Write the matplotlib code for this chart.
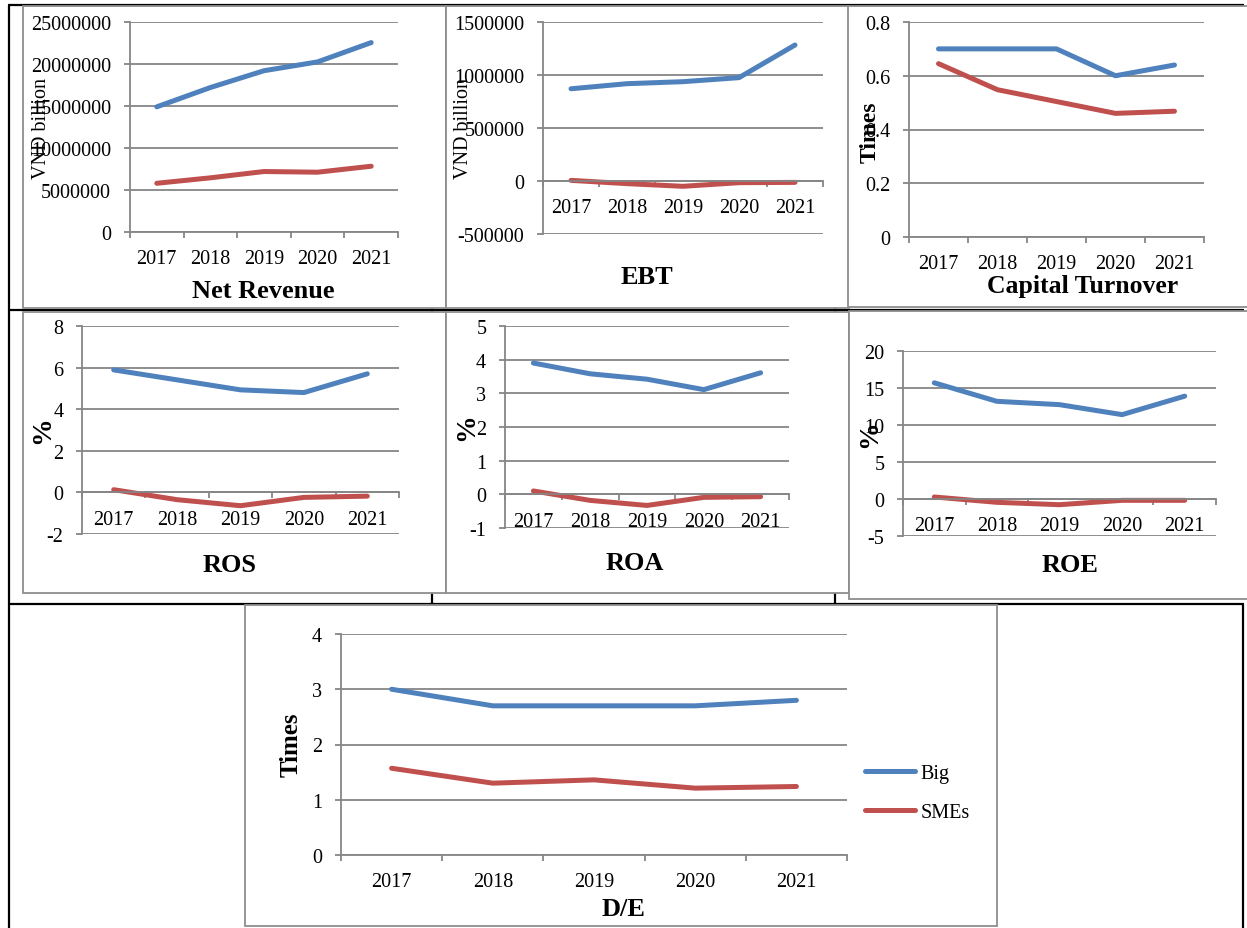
import matplotlib.pyplot as plt
import numpy as np
from matplotlib.patches import Rectangle
from matplotlib.ticker import FuncFormatter

plt.rcParams['font.family'] = ['Liberation Serif', 'DejaVu Serif']

years = ['2017', '2018', '2019', '2020', '2021']

net_rev_big = [14900000, 17200000, 19200000, 20250000, 22550000]
net_rev_sme = [5800000, 6450000, 7200000, 7120000, 7830000]
ebt_big = [870000, 918000, 937000, 975000, 1283000]
ebt_sme = [6000, -25000, -50000, -16000, -13000]
turnover_big = [0.70, 0.70, 0.70, 0.60, 0.64]
turnover_sme = [0.645, 0.548, 0.504, 0.46, 0.468]
ros_big = [5.89, 5.41, 4.93, 4.80, 5.70]
ros_sme = [0.13, -0.35, -0.64, -0.24, -0.18]
roa_big = [3.90, 3.58, 3.42, 3.11, 3.61]
roa_sme = [0.10, -0.18, -0.33, -0.09, -0.07]
roe_big = [15.7, 13.2, 12.75, 11.4, 13.9]
roe_sme = [0.27, -0.45, -0.77, -0.18, -0.18]
de_big = [3.0, 2.7, 2.7, 2.7, 2.8]
de_sme = [1.57, 1.30, 1.36, 1.21, 1.24]

BLUE = '#4f81bd'
RED = '#c0504d'
GRID = '#868686'
FRAME = '#8e8e8e'

W, H = 1247, 929
fig = plt.figure(figsize=(W / 100, H / 100), dpi=100)

# background layer in pixel units: table rules, chart frames, titles
bg = fig.add_axes([0, 0, 1, 1], zorder=-1)
bg.set_xlim(0, W)
bg.set_ylim(H, 0)
bg.axis('off')

rules = [
    ((8, 1244), (6, 6)),
    ((9, 9), (6, 929)),
    ((8, 1244), (311, 311)),
    ((8, 1244), (605, 605)),
    ((1243, 1243), (605, 929)),
    ((432, 432), (6, 605)),
    ((835, 835), (6, 605)),
]
for xs, ys in rules:
    bg.plot(xs, ys, color='black', lw=1.6, solid_capstyle='butt', zorder=1)

frames = [
    (23, 7, 446, 309),
    (446, 7, 849, 309),
    (848, 7, 1255, 308),
    (23, 313, 446, 594),
    (446, 313, 849, 594),
    (849, 312, 1255, 600),
    (245, 606, 997, 927),
]
for l, t, r, b in frames:
    bg.add_patch(Rectangle((l, t), r - l, b - t, facecolor='white',
                           edgecolor=FRAME, lw=1.3, zorder=2))


def fmt(v, pos):
    if abs(v - round(v)) < 1e-9:
        return '%d' % round(v)
    return '%g' % v


def panel(box, ylim, step, big, sme, title, title_xy, ylabel, ylabel_xy,
          ylabel_size=17, ylabel_bold=True, title_size=19):
    l, t, r, b = box
    ax = fig.add_axes([l / W, 1 - b / H, (r - l) / W, (b - t) / H])
    ax.set_facecolor('none')
    x = np.arange(len(years))
    ax.plot(x, big, color=BLUE, lw=3.6, solid_capstyle='round',
            solid_joinstyle='round', label='Big')
    ax.plot(x, sme, color=RED, lw=3.6, solid_capstyle='round',
            solid_joinstyle='round', label='SMEs')
    ax.set_xlim(-0.5, len(years) - 0.5)
    ax.set_ylim(*ylim)
    ax.set_yticks(np.arange(ylim[0], ylim[1] + step / 2, step))
    ax.yaxis.set_major_formatter(FuncFormatter(fmt))
    ax.yaxis.grid(True, color=GRID, lw=1.3)
    ax.set_axisbelow(True)

    # tick marks sit between the years, labels at the year centres
    ax.set_xticks(np.arange(-0.5, len(years), 1))
    ax.set_xticklabels([])
    ax.set_xticks(x, minor=True)
    ax.set_xticklabels(years, minor=True)

    for s in ('top', 'right'):
        ax.spines[s].set_visible(False)
    for s in ('left', 'bottom'):
        ax.spines[s].set_color(GRID)
        ax.spines[s].set_linewidth(1.3)
    ax.spines['bottom'].set_position(('data', 0))

    ax.tick_params(axis='y', length=4.5, width=1.3, color=GRID, pad=9,
                   labelsize=14.5)
    ax.tick_params(axis='x', which='major', length=4.5, width=1.3,
                   color=GRID, direction='out')
    ax.tick_params(axis='x', which='minor', length=0, pad=12.5,
                   labelsize=14.5)

    bg.text(title_xy[0], title_xy[1], title, ha='center', va='center',
            fontsize=title_size, fontweight='bold', zorder=3)
    bg.text(ylabel_xy[0], ylabel_xy[1], ylabel, ha='center', va='center',
            rotation=90, fontsize=ylabel_size,
            fontweight='bold' if ylabel_bold else 'normal', zorder=3)
    return ax


panel((130, 23, 398, 233), (0, 25000000), 5000000, net_rev_big, net_rev_sme,
      'Net Revenue', (263, 291), 'VND billion', (41, 128),
      ylabel_size=14.5, ylabel_bold=False)
panel((543, 23, 823, 235), (-500000, 1500000), 500000, ebt_big, ebt_sme,
      'EBT', (647, 277), 'VND billion', (464, 128),
      ylabel_size=14.5, ylabel_bold=False)
panel((909, 23, 1204, 238), (0, 0.8), 0.2, turnover_big, turnover_sme,
      'Capital Turnover', (1083, 286), 'Times', (870, 132), title_size=18.5)
panel((82, 327, 399, 535), (-2, 8), 2, ros_big, ros_sme,
      'ROS', (230, 565), '%', (43, 430), ylabel_size=20)
panel((505, 327, 789, 529), (-1, 5), 1, roa_big, roa_sme,
      'ROA', (635, 563), '%', (467, 427), ylabel_size=20)
panel((903, 352, 1216, 537), (-5, 20), 5, roe_big, roe_sme,
      'ROE', (1070, 565), '%', (870, 434), ylabel_size=20)
ax7 = panel((341, 635, 847, 856), (0, 4), 1, de_big, de_sme,
            'D/E', (623, 910), 'Times', (291, 745), ylabel_size=18)

ax7.legend(loc='center left', bbox_to_anchor=(865 / W, 1 - 794 / H),
           bbox_transform=fig.transFigure, frameon=False, fontsize=14.5,
           handlelength=2.5, handletextpad=0.25, labelspacing=0.95,
           borderpad=0, borderaxespad=0)

fig.savefig('out.png', dpi=100)
